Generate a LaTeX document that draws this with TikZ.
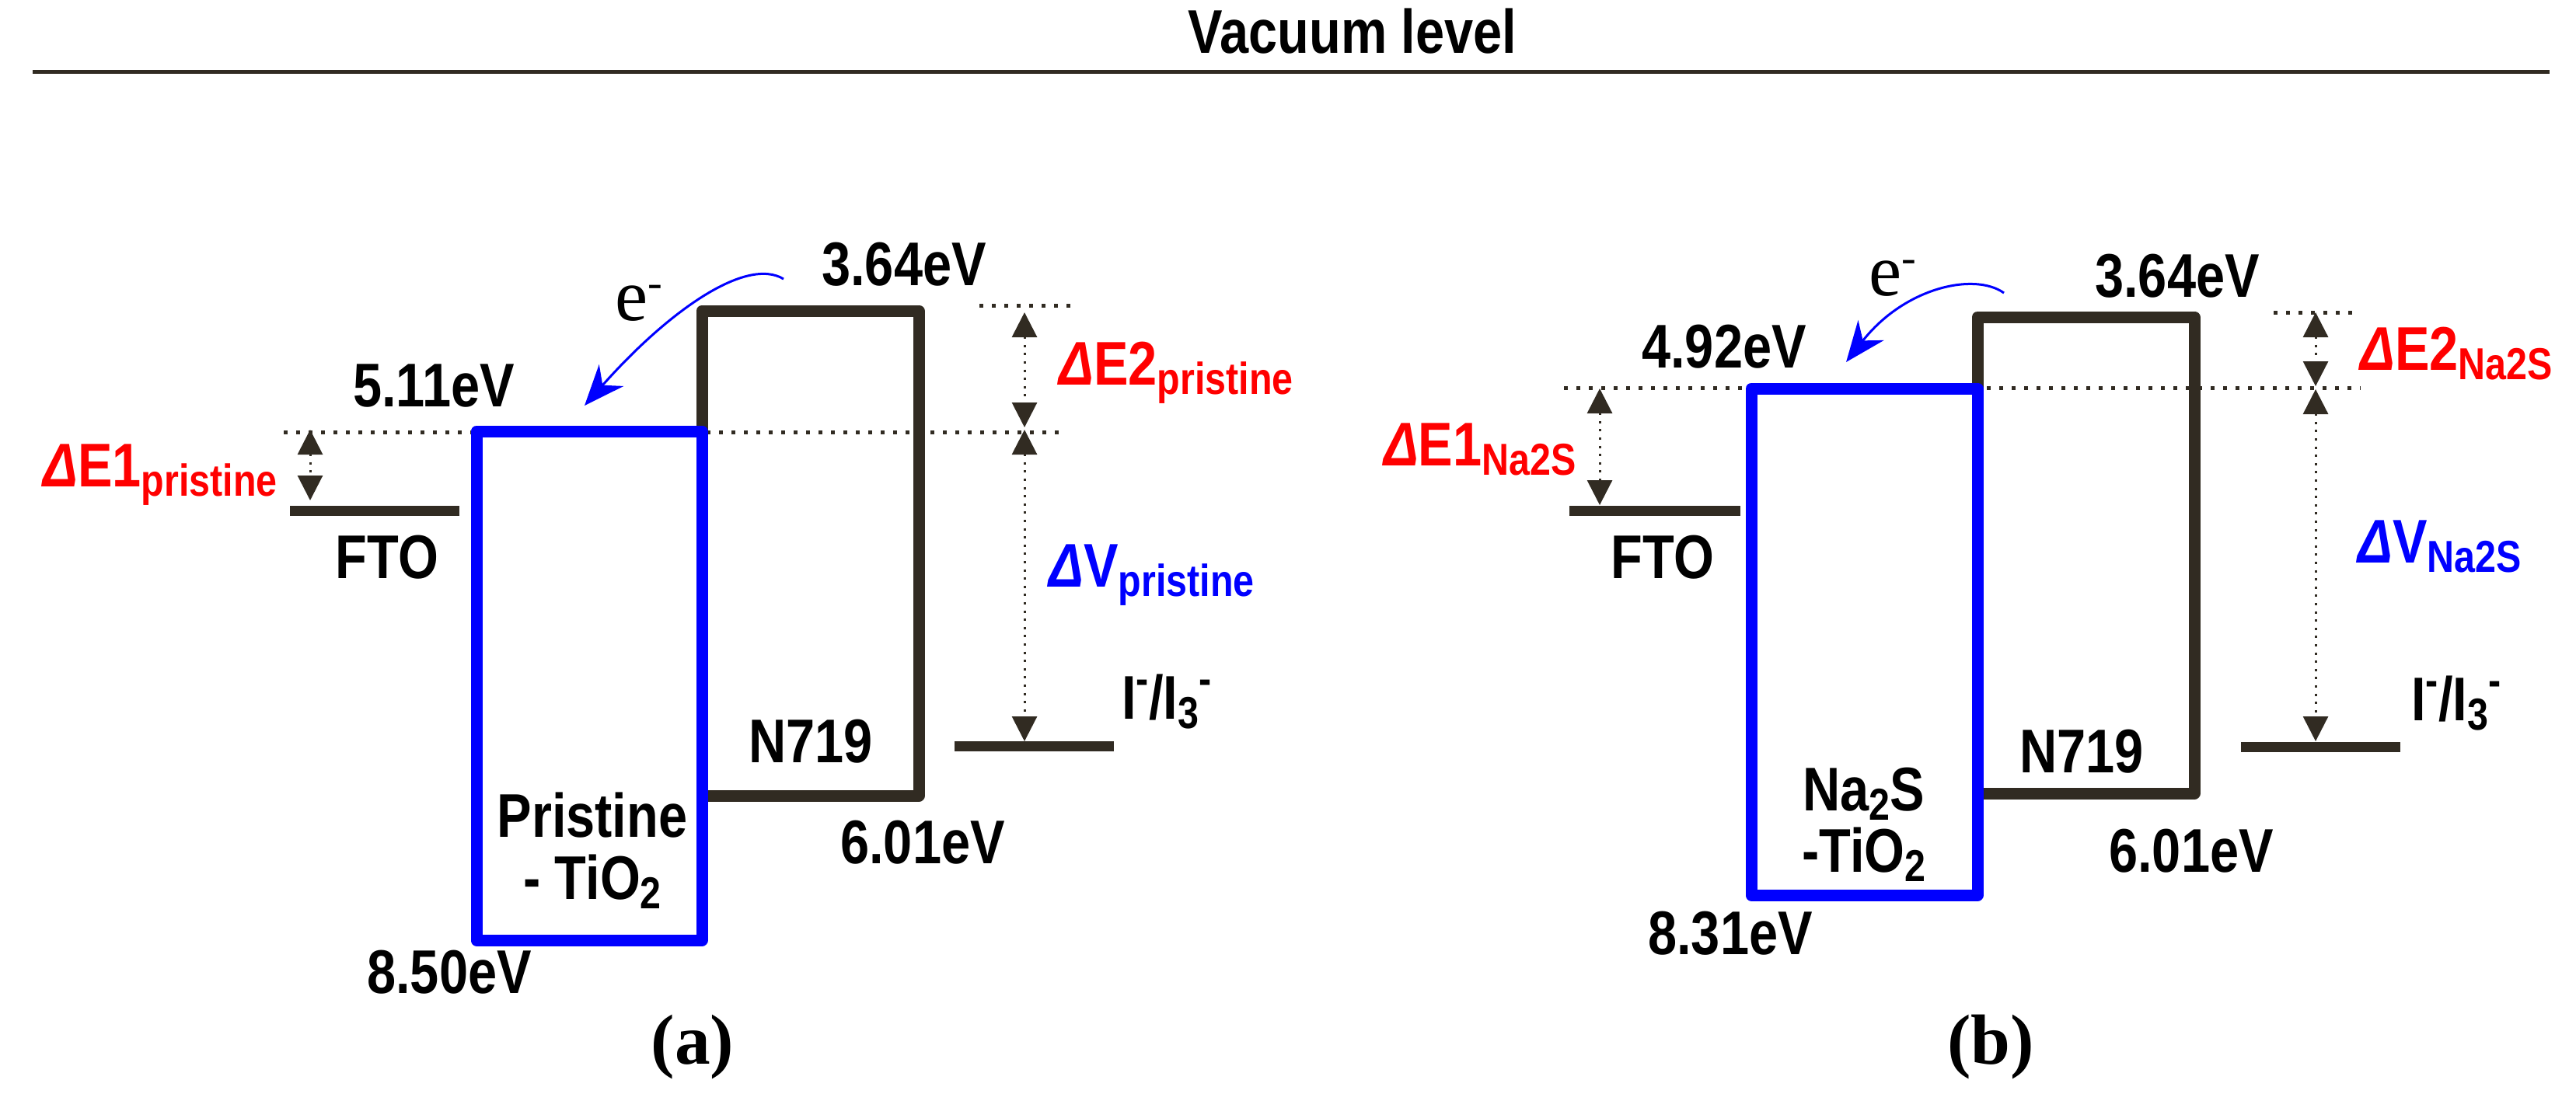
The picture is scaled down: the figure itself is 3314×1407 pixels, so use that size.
\documentclass[tikz,border=0pt]{standalone}
\usepackage{fontspec}
\setmainfont{Liberation Sans}[FakeStretch=0.84]
\newfontfamily\serifface{Liberation Serif}
\usetikzlibrary{arrows.meta}

\definecolor{banddark}{RGB}{49,43,34}
\definecolor{bandblue}{RGB}{0,0,255}
\definecolor{gapred}{RGB}{255,0,0}

\newcommand{\lo}[1]{\raisebox{-0.6mm}{\fontsize{8.2}{9}\selectfont #1}}
\newcommand{\hi}[1]{\raisebox{1.6mm}{\fontsize{8.2}{9}\selectfont #1}}
\newcommand{\dlt}{{\itshape Δ}}

\tikzset{
  vac/.style={line width=0.25mm, draw=banddark},
  level/.style={line width=0.65mm, draw=banddark},
  dyebox/.style={line width=0.75mm, draw=banddark, line join=round},
  tibox/.style={line width=0.75mm, draw=bandblue, line join=round},
  guide/.style={line width=0.25mm, draw=banddark, dash pattern=on 0.25mm off 0.55mm},
  gap/.style={line width=0.15mm, draw=banddark, dash pattern=on 0.15mm off 0.38mm,
    {Triangle[length=1.6mm,width=1.6mm]}-{Triangle[length=1.6mm,width=1.6mm]}},
  hop/.style={line width=0.15mm, draw=bandblue, -{Stealth[length=2.6mm,width=2.1mm]}},
  lbl/.style={inner sep=0pt, font=\fontsize{11.3}{13}\selectfont\bfseries},
  elec/.style={inner sep=0pt, font=\serifface\fontsize{13.5}{15}\selectfont},
  panel/.style={inner sep=0pt, font=\serifface\bfseries\fontsize{13}{15}\selectfont},
}

\begin{document}
\begin{tikzpicture}[x=0.05mm,y=0.05mm,yscale=-1]
\useasboundingbox (0,0) rectangle (3314,1407);

% vacuum level
\coordinate (vacL) at (42,92);
\coordinate (vacR) at (3280,92);
\draw[vac] (vacL) -- (vacR);
\node[lbl, anchor=base] (vac) at (1740,68) {Vacuum level};

%% ---------- panel (a) ----------
% guide lines
\coordinate (a-gL) at (365,556);
\coordinate (a-gR) at (1363,556);
\coordinate (a-sL) at (1260,393);
\coordinate (a-sR) at (1380,393);
\draw[guide] (a-gL) -- (a-gR);
\draw[guide] (a-sL) -- (a-sR);
% N719 box
\coordinate (a-dyeNW) at (903,400);
\coordinate (a-dyeSE) at (1182,1024);
\draw[dyebox] (a-dyeNW) rectangle (a-dyeSE);
% TiO2 box
\coordinate (a-tiNW) at (613,555);
\coordinate (a-tiSE) at (903,1210);
\draw[tibox] (a-tiNW) rectangle (a-tiSE);
% FTO and redox levels
\coordinate (a-ftoL) at (373,657);
\coordinate (a-ftoR) at (591,657);
\draw[level] (a-ftoL) -- (a-ftoR);
\coordinate (a-rdL) at (1228,960);
\coordinate (a-rdR) at (1433,960);
\draw[level] (a-rdL) -- (a-rdR);
% gap arrows
\coordinate (a-e1T) at (399,553);
\coordinate (a-e1B) at (399,644);
\draw[gap] (a-e1T) -- (a-e1B);
\coordinate (a-e2T) at (1318,402);
\coordinate (a-e2B) at (1318,550);
\draw[gap] (a-e2T) -- (a-e2B);
\coordinate (a-vT) at (1318,553);
\coordinate (a-vB) at (1318,954);
\draw[gap] (a-vT) -- (a-vB);
% electron hop
\coordinate (a-hopS) at (1008,359);
\coordinate (a-hopE) at (752,522);
\draw[hop] (a-hopS) .. controls (960,330) and (860,400) .. (a-hopE);

% Text Node
\node[lbl, anchor=base] (a-lumo) at (558,523) {5.11eV};
\node[lbl, anchor=base] (a-dyelumo) at (1163,367) {3.64eV};
\node[lbl, anchor=base] (a-fto) at (498,744) {FTO};
\node[lbl, anchor=base east, text=gapred] (a-de1) at (358,626) {\dlt E1\lo{pristine}};
\node[lbl, anchor=base west, text=gapred] (a-de2) at (1361,495) {\dlt E2\lo{pristine}};
\node[lbl, anchor=base west, text=bandblue] (a-dv) at (1348,755) {\dlt V\lo{pristine}};
\node[lbl, anchor=base west] (a-redox) at (1442,925) {I\hi{-}/I\lo{3}\hi{-}};
\node[lbl, anchor=base] (a-dye) at (1043,981) {N719};
\node[lbl, anchor=base] (a-homo) at (1187,1111) {6.01eV};
\node[lbl, anchor=base] (a-ti1) at (762,1077) {Pristine};
\node[lbl, anchor=base] (a-ti2) at (762,1157) {- TiO\lo{2}};
\node[lbl, anchor=base] (a-vb) at (578,1278) {8.50eV};
\node[elec, anchor=base west] (a-e) at (790,412) {e\raisebox{1.5mm}{\fontsize{8}{8}\selectfont -}};
\node[panel] (a-cap) at (891,1347) {(a)};

%% ---------- panel (b) ----------
% guide lines
\coordinate (b-gL) at (2012,499);
\coordinate (b-gR) at (3037,499);
\coordinate (b-sL) at (2925,402);
\coordinate (b-sR) at (3028,402);
\draw[guide] (b-gL) -- (b-gR);
\draw[guide] (b-sL) -- (b-sR);
% N719 box
\coordinate (b-dyeNW) at (2544,408);
\coordinate (b-dyeSE) at (2823,1021);
\draw[dyebox] (b-dyeNW) rectangle (b-dyeSE);
% TiO2 box
\coordinate (b-tiNW) at (2253,500);
\coordinate (b-tiSE) at (2544,1152);
\draw[tibox] (b-tiNW) rectangle (b-tiSE);
% FTO and redox levels
\coordinate (b-ftoL) at (2019,657);
\coordinate (b-ftoR) at (2239,657);
\draw[level] (b-ftoL) -- (b-ftoR);
\coordinate (b-rdL) at (2883,961);
\coordinate (b-rdR) at (3088,961);
\draw[level] (b-rdL) -- (b-rdR);
% gap arrows
\coordinate (b-e1T) at (2058,500);
\coordinate (b-e1B) at (2058,650);
\draw[gap] (b-e1T) -- (b-e1B);
\coordinate (b-e2T) at (2979,402);
\coordinate (b-e2B) at (2979,497);
\draw[gap] (b-e2T) -- (b-e2B);
\coordinate (b-vT) at (2979,501);
\coordinate (b-vB) at (2979,954);
\draw[gap] (b-vT) -- (b-vB);
% electron hop
\coordinate (b-hopS) at (2578,377);
\coordinate (b-hopE) at (2375,466);
\draw[hop] (b-hopS) .. controls (2540,350) and (2450,370) .. (b-hopE);

% Text Node
\node[lbl, anchor=base] (b-lumo) at (2218,473) {4.92eV};
\node[lbl, anchor=base] (b-dyelumo) at (2801,382) {3.64eV};
\node[lbl, anchor=base] (b-fto) at (2139,744) {FTO};
\node[lbl, anchor=base east, text=gapred] (b-de1) at (2029,599) {\dlt E1\lo{Na2S}};
\node[lbl, anchor=base west, text=gapred] (b-de2) at (3035,476) {\dlt E2\lo{Na2S}};
\node[lbl, anchor=base west, text=bandblue] (b-dv) at (3032,724) {\dlt V\lo{Na2S}};
\node[lbl, anchor=base west] (b-redox) at (3101,927) {I\hi{-}/I\lo{3}\hi{-}};
\node[lbl, anchor=base] (b-dye) at (2678,994) {N719};
\node[lbl, anchor=base] (b-homo) at (2819,1122) {6.01eV};
\node[lbl, anchor=base] (b-ti1) at (2398,1043) {Na\lo{2}S};
\node[lbl, anchor=base] (b-ti2) at (2398,1122) {-TiO\lo{2}};
\node[lbl, anchor=base] (b-vb) at (2226,1228) {8.31eV};
\node[elec, anchor=base west] (b-e) at (2403,380) {e\raisebox{1.5mm}{\fontsize{8}{8}\selectfont -}};
\node[panel] (b-cap) at (2561,1347) {(b)};

\end{tikzpicture}
\end{document}
